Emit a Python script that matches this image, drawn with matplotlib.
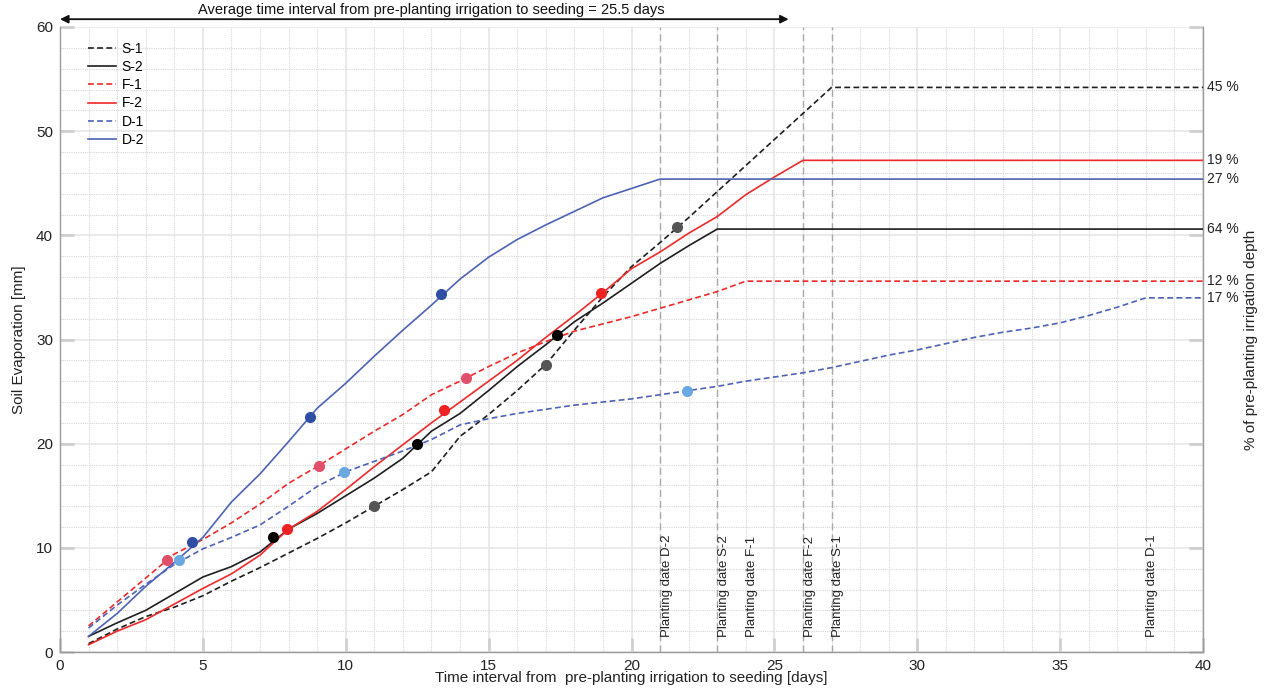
import matplotlib
matplotlib.use("Agg")
import matplotlib.pyplot as plt
from matplotlib.ticker import MultipleLocator

plt.rcParams['font.family'] = ['Liberation Sans', 'DejaVu Sans']

# -------------------------
# data
# -------------------------
s1_x = [1, 2, 3, 4, 5, 6, 7, 8, 9, 10, 11, 12, 13, 14, 15, 16, 17, 18, 19, 20, 21, 22, 23, 24, 25, 26, 27, 40]
s1_y = [0.8, 2.2, 3.4, 4.3, 5.4, 6.8, 8.1, 9.5, 10.9, 12.4, 14.0, 15.6, 17.3, 20.7, 22.8, 25.1, 27.6,
        30.9, 34.1, 37.0, 39.3, 41.7, 44.2, 46.7, 49.2, 51.7, 54.2, 54.2]

s2_x = [1, 2, 3, 4, 5, 6, 7, 8, 9, 10, 11, 12, 13, 14, 15, 16, 17, 18, 19, 20, 21, 22, 23, 40]
s2_y = [1.5, 2.8, 4.0, 5.6, 7.2, 8.2, 9.6, 11.8, 13.3, 15.0, 16.7, 18.6, 21.2, 22.9, 25.1, 27.4,
        29.5, 31.7, 33.5, 35.4, 37.3, 39.0, 40.6, 40.6]

f1_x = [1, 2, 3, 4, 5, 6, 7, 8, 9, 10, 11, 12, 13, 14, 15, 16, 17, 18, 19, 20, 21, 22, 23, 24, 40]
f1_y = [2.5, 4.8, 7.1, 9.4, 10.8, 12.4, 14.2, 16.2, 17.8, 19.5, 21.2, 22.8, 24.7, 26.0, 27.4, 28.7,
        29.8, 30.8, 31.5, 32.2, 33.0, 33.8, 34.6, 35.6, 35.6]

f2_x = [1, 2, 3, 4, 5, 6, 7, 8, 9, 10, 11, 12, 13, 14, 15, 16, 17, 18, 19, 20, 21, 22, 23, 24, 25, 26, 40]
f2_y = [0.7, 2.0, 3.1, 4.6, 6.1, 7.5, 9.3, 11.8, 13.5, 15.6, 17.8, 19.9, 22.0, 24.0, 26.0, 28.0,
        30.2, 32.3, 34.5, 36.8, 38.4, 40.2, 41.8, 43.9, 45.6, 47.2, 47.2]

d1_x = [1, 2, 3, 4, 5, 6, 7, 8, 9, 10, 11, 12, 13, 14, 15, 16, 17, 18, 19, 20, 21, 22, 23, 24, 25,
        26, 27, 28, 29, 30, 31, 32, 33, 34, 35, 36, 37, 38, 40]
d1_y = [2.3, 4.5, 6.5, 8.4, 9.9, 11.0, 12.2, 14.0, 15.9, 17.3, 18.3, 19.3, 20.4, 21.8, 22.4, 22.9,
        23.3, 23.7, 24.0, 24.3, 24.7, 25.1, 25.5, 26.0, 26.4, 26.8, 27.3, 27.9, 28.5, 29.0, 29.6,
        30.2, 30.7, 31.1, 31.6, 32.3, 33.1, 34.0, 34.0]

d2_x = [1, 2, 3, 4, 5, 6, 7, 8, 9, 10, 11, 12, 13, 14, 15, 16, 17, 18, 19, 20, 21, 40]
d2_y = [1.5, 3.7, 6.3, 8.6, 11.0, 14.4, 17.1, 20.2, 23.4, 25.8, 28.4, 30.9, 33.3, 35.8, 37.9, 39.6,
        41.0, 42.3, 43.6, 44.5, 45.4, 45.4]

# marked points on each curve
s1_mx, s1_my = [11, 17, 21.6], [14.0, 27.6, 40.8]
s2_mx, s2_my = [7.45, 12.5, 17.4], [11.0, 20.0, 30.4]
f1_mx, f1_my = [3.75, 9.05, 14.2], [8.8, 17.9, 26.3]
f2_mx, f2_my = [7.95, 13.45, 18.95], [11.8, 23.2, 34.5]
d1_mx, d1_my = [4.15, 9.95, 21.95], [8.8, 17.3, 25.05]
d2_mx, d2_my = [4.62, 8.75, 13.35], [10.6, 22.6, 34.4]

# percent of pre-planting irrigation depth at the end of each curve
pct_labels = ["45 %", "64 %", "12 %", "19 %", "17 %", "27 %"]

# planting dates
plant_names = ["D-2", "S-2", "F-1", "F-2", "S-1", "D-1"]
plant_days = [21, 23, 24, 26, 27, 38]
plant_lines = [21, 23, 26, 27]

avg_interval = 25.5

# -------------------------
# plot
# -------------------------
fig = plt.figure(figsize=(12.66, 6.93), dpi=100)
ax = fig.add_axes([60 / 1266, 41 / 693, 1143 / 1266, 625 / 693])

dash = (0, (3.5, 2))
black = "#1e1e1e"
red = "#ec2a2a"
blue = "#4d62b4"

series = [
    ("S-1", s1_x, s1_y, black, dash, s1_mx, s1_my, "#555555"),
    ("S-2", s2_x, s2_y, black, "-", s2_mx, s2_my, "#000000"),
    ("F-1", f1_x, f1_y, red, dash, f1_mx, f1_my, "#e0506a"),
    ("F-2", f2_x, f2_y, red, "-", f2_mx, f2_my, "#ee2222"),
    ("D-1", d1_x, d1_y, blue, dash, d1_mx, d1_my, "#6aa8e2"),
    ("D-2", d2_x, d2_y, blue, "-", d2_mx, d2_my, "#2f4ea3"),
]

for (name, xs, ys, col, ls, mx, my, mcol), pct in zip(series, pct_labels):
    ax.plot(xs, ys, color=col, linestyle=ls, linewidth=1.2, label=name, zorder=3)
    ax.plot(mx, my, "o", color=mcol, markersize=7, zorder=4)
    ax.text(40.15, ys[-1], pct, ha="left", va="center", fontsize=10, color="#222222",
            clip_on=False)

# planting date lines and labels
for d in plant_lines:
    ax.axvline(d, color="#a8a8a8", linestyle=(0, (5, 3)), linewidth=1, zorder=2)
for name, d in zip(plant_names, plant_days):
    ax.text(d + 0.02, 1.4, "Planting date " + name, rotation=90, ha="left", va="bottom",
            fontsize=9.5, color="#222222")

# average interval arrow
ax.annotate("", xy=(0, 60.75), xytext=(avg_interval, 60.75),
            arrowprops=dict(arrowstyle="<|-|>", color="#111111", lw=1.3,
                            mutation_scale=12, shrinkA=0, shrinkB=0),
            annotation_clip=False)
ax.text(13.0, 60.95, "Average time interval from pre-planting irrigation to seeding = %.1f days" % avg_interval,
        ha="center", va="bottom", fontsize=10.5, color="#111111")

ax.set_xlim(0, 40)
ax.set_ylim(0, 60)
ax.xaxis.set_major_locator(MultipleLocator(5))
ax.xaxis.set_minor_locator(MultipleLocator(1))
ax.yaxis.set_major_locator(MultipleLocator(10))
ax.yaxis.set_minor_locator(MultipleLocator(2))

ax.grid(which="major", color="#e6e6e6", linewidth=1.2, linestyle="-", zorder=0)
ax.grid(which="minor", color="#d6d6d6", linewidth=0.8, linestyle=(0, (1, 1)), zorder=0)
ax.set_axisbelow(True)

ax.tick_params(which="major", direction="in", length=10, width=2, color="#cfcfcf",
               labelsize=11, labelcolor="#222222", right=True, top=False, pad=5)
ax.tick_params(which="minor", length=0)

for side in ["left", "bottom", "right"]:
    ax.spines[side].set_color("#9a9a9a")
    ax.spines[side].set_linewidth(1)
ax.spines["top"].set_visible(False)

ax.set_ylabel("Soil Evaporation [mm]", fontsize=11, color="#222222")
ax.yaxis.set_label_coords(-0.030, 0.5)
ax.set_xlabel("Time interval from  pre-planting irrigation to seeding [days]", fontsize=11,
              color="#222222")
ax.xaxis.set_label_coords(0.5, -0.03)
ax.text(1.042, 0.5, "% of pre-planting irrigation depth", transform=ax.transAxes, rotation=90,
        ha="center", va="center", fontsize=11, color="#222222")

ax.legend(loc="upper left", bbox_to_anchor=(0.02, 0.985), frameon=False, fontsize=10,
          handlelength=2.0, labelspacing=0.3, handletextpad=0.4, borderaxespad=0)

plt.savefig("out.png", dpi=100)
